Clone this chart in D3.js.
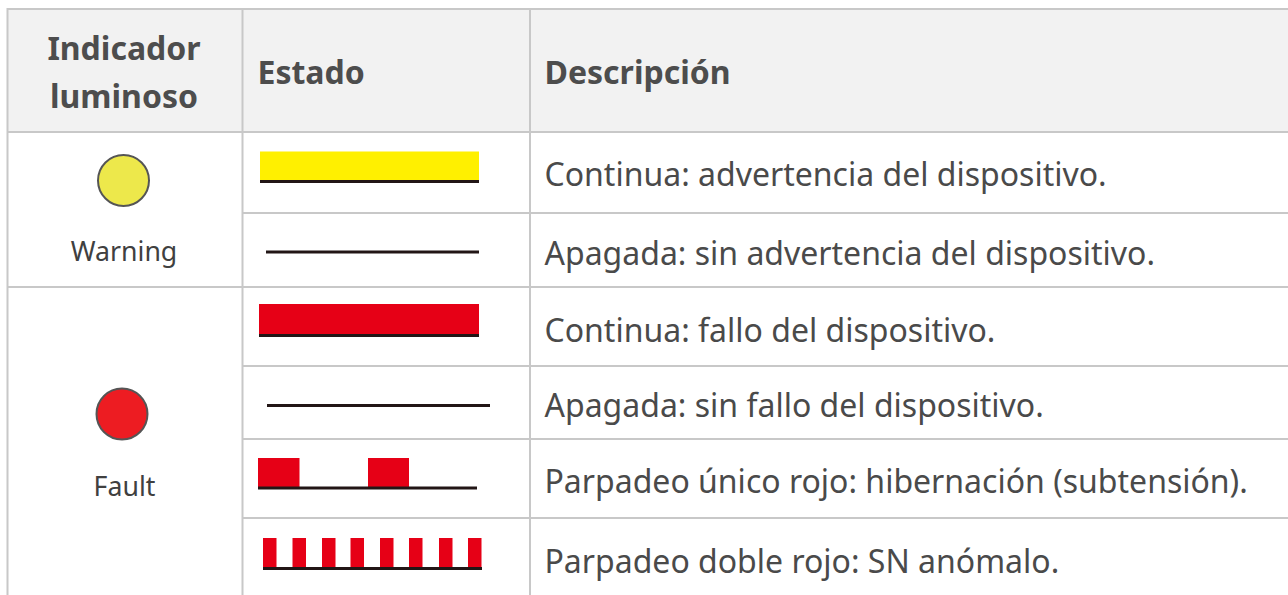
<!DOCTYPE html>
<html>
<head>
<meta charset="utf-8">
<script src="https://cdn.jsdelivr.net/npm/d3@7"></script>
<style>
  html, body { margin: 0; padding: 0; background: #fff; overflow: hidden; }
  svg { display: block; font-family: "Noto Sans", sans-serif; }
</style>
</head>
<body>
<svg id="chart" width="1288" height="595"></svg>
<script>
// table content
const headers = ['Estado', 'Descripción'];
const indicatorHeader = ['Indicador', 'luminoso'];
const indicators = ['Warning', 'Fault'];
const indicatorColors = ['#ede84b', '#ed1c24'];
const descriptions = [
  'Continua: advertencia del dispositivo.',
  'Apagada: sin advertencia del dispositivo.',
  'Continua: fallo del dispositivo.',
  'Apagada: sin fallo del dispositivo.',
  'Parpadeo único rojo: hibernación (subtensión).',
  'Parpadeo doble rojo: SN anómalo.'
];
const rowIndicator = [0, 0, 1, 1, 1, 1];

// led on-times per row, [start, end] in seconds
const pulses = [
  [[0, 2.19]],
  [],
  [[0, 2.2]],
  [],
  [[0, 0.415], [1.1, 1.51]],
  [[0, 0.135], [0.295, 0.43], [0.59, 0.725], [0.875, 1.01], [1.17, 1.305], [1.46, 1.595], [1.76, 1.895], [2.05, 2.185]]
];
const signalLength = [2.19, 2.13, 2.2, 2.23, 2.19, 2.19];

// layout
const colLines = [7.5, 242.5, 530, 1300];
const rowLines = [9, 132, 213, 287, 366, 439, 518, 600];
const signalLeft = [260, 266, 259, 267, 258, 263];
const signalBase = [181.5, 252, 335.5, 405.5, 488, 568.5];
const pulseHeight = [30, 0, 31.5, 0, 30, 30.5];
const pxPerSecond = 100;

const svg = d3.select('#chart');

const defs = svg.append('defs');
defs.append('filter').attr('id', 'soft')
  .attr('x', '-5%').attr('y', '-20%').attr('width', '110%').attr('height', '140%')
  .append('feGaussianBlur').attr('stdDeviation', 0.5);

// header background
svg.append('rect')
  .attr('x', colLines[0]).attr('y', rowLines[0])
  .attr('width', 1288).attr('height', rowLines[1] - rowLines[0])
  .attr('fill', '#f2f2f2');

// signal drawings
const signals = svg.append('g').attr('filter', 'url(#soft)');
pulses.forEach((on, i) => {
  const x = d3.scaleLinear().domain([0, 1]).range([signalLeft[i], signalLeft[i] + pxPerSecond]);
  const color = rowIndicator[i] === 0 ? '#fff000' : '#e60012';
  signals.selectAll(null).data(on).enter().append('rect')
    .attr('x', d => x(d[0]))
    .attr('width', d => x(d[1]) - x(d[0]))
    .attr('y', signalBase[i] - pulseHeight[i])
    .attr('height', pulseHeight[i])
    .attr('fill', color);
  signals.append('line')
    .attr('x1', x(0)).attr('x2', x(signalLength[i]))
    .attr('y1', signalBase[i]).attr('y2', signalBase[i])
    .attr('stroke', '#231815').attr('stroke-width', 3.2);
});

// grid lines
const grid = svg.append('g').attr('stroke', '#c8c8c8').attr('stroke-width', 2);
grid.selectAll(null).data(colLines.slice(0, 3)).enter().append('line')
  .attr('x1', d => d).attr('x2', d => d)
  .attr('y1', rowLines[0] - 1).attr('y2', 595);
grid.append('line').attr('x1', colLines[0]).attr('x2', 1288).attr('y1', rowLines[0]).attr('y2', rowLines[0]);
grid.append('line').attr('x1', colLines[0]).attr('x2', 1288).attr('y1', rowLines[1]).attr('y2', rowLines[1]);
grid.append('line').attr('x1', colLines[0]).attr('x2', 1288).attr('y1', rowLines[3]).attr('y2', rowLines[3]);
grid.selectAll(null).data([rowLines[2], rowLines[4], rowLines[5], rowLines[6]]).enter().append('line')
  .attr('x1', colLines[1]).attr('x2', 1288)
  .attr('y1', d => d).attr('y2', d => d);

// header text
const headText = svg.append('g')
  .attr('font-size', 32).attr('font-weight', 700).attr('fill', '#4d4d4d');
headText.selectAll(null).data(indicatorHeader).enter().append('text')
  .attr('x', 124).attr('y', (d, i) => 60 + i * 48)
  .attr('text-anchor', 'middle').text(d => d);
headText.selectAll(null).data(headers).enter().append('text')
  .attr('x', (d, i) => [257.5, 544.5][i]).attr('y', 84).text(d => d);

// indicator leds
const ledY = [180.5, 414];
const ledX = [123.5, 122];
svg.append('g').attr('filter', 'url(#soft)')
  .selectAll('circle').data(indicators).enter().append('circle')
  .attr('cx', (d, i) => ledX[i]).attr('cy', (d, i) => ledY[i]).attr('r', 25.5)
  .attr('fill', (d, i) => indicatorColors[i])
  .attr('stroke', '#555').attr('stroke-width', 2);
svg.selectAll(null).data(indicators).enter().append('text')
  .attr('x', (d, i) => [124, 124.5][i]).attr('y', (d, i) => [261, 496][i])
  .attr('text-anchor', 'middle').attr('font-size', 26.7).attr('fill', '#404040')
  .text(d => d);

// descriptions
const descY = [186, 265, 342, 417, 493, 573];
svg.selectAll(null).data(descriptions).enter().append('text')
  .attr('x', 544.5).attr('y', (d, i) => descY[i])
  .attr('font-size', 32).attr('fill', '#4a4a4a')
  .text(d => d);
</script>
</body>
</html>
